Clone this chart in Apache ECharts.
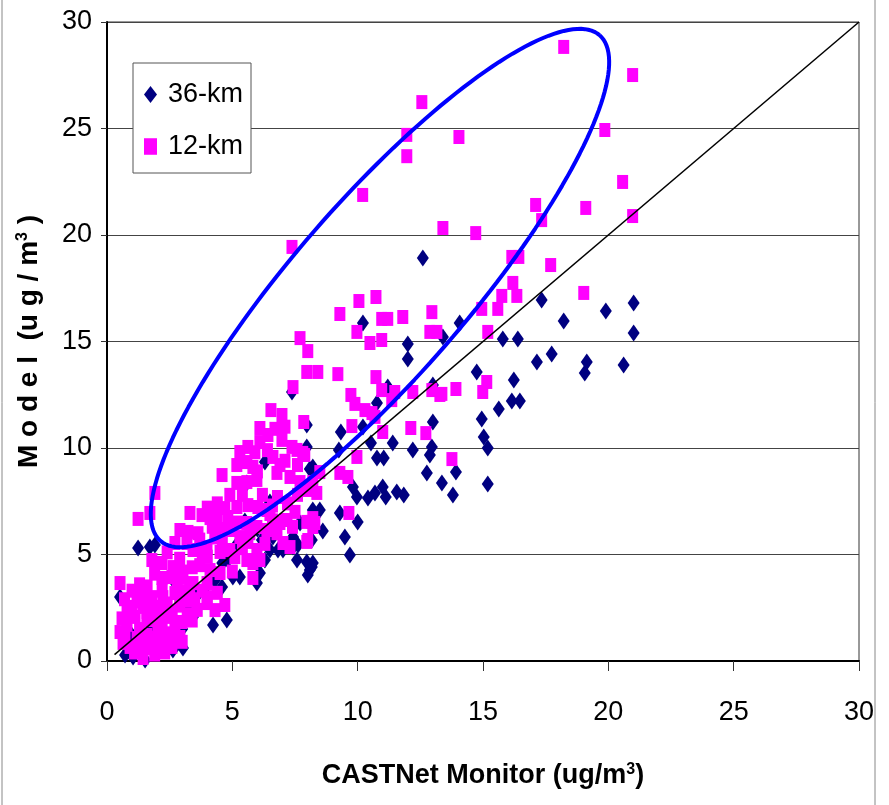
<!DOCTYPE html>
<html>
<head>
<meta charset="utf-8">
<script src="https://cdn.jsdelivr.net/npm/echarts@6/dist/echarts.min.js"></script>
<style>
html,body{margin:0;padding:0;background:#fff;}
#chart{width:889px;height:805px;}
</style>
</head>
<body>
<div id="chart"></div>
<script>
// ---- data ----
const seriesNames = ['36-km', '12-km'];
const xTicks = [0, 5, 10, 15, 20, 25, 30];
const yTicks = [0, 5, 10, 15, 20, 25, 30];

// 36-km model vs CASTNet monitor
const km36 = [
  [14.07,15.87],[13.4,15.21],[17.34,16.95],[18.22,15.96],[19.9,16.43],[21.01,16.81],[21.01,15.4],
  [15.79,15.12],[16.39,15.12],[14.75,13.57],[16.23,13.19],[17.15,14.04],[17.74,14.41],[19.14,14.04],
  [19.06,13.52],[20.61,13.9],[16.15,12.21],[16.47,12.21],[15.63,11.83],[14.95,11.36],[15.03,10.52],
  [15.19,10.0],[13.92,8.87],[13.36,8.36],[15.19,8.31],[13.8,7.79],
  [12.6,18.92],[10.21,15.87],[12.0,14.88],[12.0,14.18],[11.2,12.86],[10.77,12.11],[13.0,12.96],
  [13.0,11.22],[9.33,10.75],[7.97,11.08],[10.21,10.99],[11.4,10.23],[10.53,10.23],[12.2,9.91],
  [12.96,10.05],[12.88,9.67],[10.77,9.53],[11.04,9.53],[9.25,9.91],[12.76,8.83],[10.41,7.65],
  [10.69,7.89],[11.0,8.17],[11.12,7.7],[11.56,7.93],[11.84,7.79],[9.81,8.17],[9.97,7.7],[9.29,6.95],
  [8.49,7.09],[10.0,6.53],[9.49,5.82],[8.61,6.1],[9.69,4.98],[8.17,4.41],[8.01,4.04],[7.02,5.21],
  [7.42,5.35],[7.7,6.48],[7.38,12.63],[7.97,10.05],[8.21,9.11],[8.09,9.01],[8.21,7.09],[7.42,5.82],
  [7.3,5.54],[8.09,4.27],[8.21,4.6],[6.62,5.82],[6.5,5.21],[6.3,4.74],[6.1,4.13],[5.98,3.66],
  [5.3,3.94],[5.02,3.94],[4.59,3.47],[4.23,1.69],[4.78,1.92],[3.43,2.07],[2.59,3.9],[1.24,5.31],
  [1.71,5.35],[1.91,5.45],[0.52,3.0],[3.03,0.61],[2.63,0.52],[0.72,0.28],[1.04,0.19],[1.52,0.05],
  [3.99,3.57],[4.31,3.8],[6.3,9.34],[6.5,7.46],[5.58,8.36],[8.17,5.68],[7.62,5.45],[6.82,5.21],
  [7.58,4.74],[7.97,4.65],[2.3,2.3],[1.8,1.5],[3.6,3.1],[4.6,4.6],[5.5,6.57],[6.18,5.68],[4.82,4.74],
  [3.2,2.6],[2.0,0.9],[1.0,1.2],[5.2,5.5],[6.0,6.2],[4.1,3.9],[3.0,1.5]
];

// 12-km model vs CASTNet monitor
const km12 = [
  [18.22,28.83],[20.97,27.51],[14.04,24.6],[19.86,24.93],[12.56,26.24],[11.96,24.7],[11.96,23.7],
  [10.2,21.88],[20.57,22.49],[17.1,21.41],[19.1,21.27],[17.34,20.7],[20.97,20.89],[13.4,20.33],
  [14.71,20.09],[7.38,19.44],[16.15,18.97],[16.43,18.97],[17.7,18.59],[16.19,17.75],[15.75,17.14],
  [16.35,17.14],[14.95,16.53],[15.59,16.53],[19.02,17.28],[15.19,15.45],[15.15,13.1],[14.99,12.63],
  [13.92,12.77],[13.36,12.54],[13.76,9.48],
  [10.73,17.09],[10.05,16.9],[9.29,16.29],[10.96,16.06],[11.2,16.06],[11.8,16.15],[12.96,16.38],
  [9.97,15.45],[10.49,14.93],[10.96,15.07],[12.88,15.45],[13.16,15.45],[8.01,14.55],[7.7,15.16],
  [7.97,13.57],[8.41,13.57],[9.21,13.47],[10.73,13.33],[10.96,12.72],[11.48,12.63],[11.36,12.25],
  [12.2,12.63],[12.96,12.72],[13.28,12.49],[9.73,12.49],[9.89,12.07],[10.29,11.78],[10.57,11.64],
  [10.69,11.46],[11.0,10.75],[9.77,11.03],[7.85,11.22],[12.12,10.94],[12.72,10.7],[9.97,9.58],
  [7.89,9.67],[9.29,8.83],[9.61,8.64],[8.49,8.87],[8.21,8.4],[7.97,8.03],[9.65,6.95],[8.21,6.71],
  [7.42,12.86],
  [6.54,11.78],[6.98,11.55],[6.1,10.94],[6.42,10.61],[6.1,10.28],[5.62,10.05],[5.3,9.81],[6.98,10.38],
  [7.38,10.05],[7.58,9.91],[7.81,9.77],[6.62,9.58],[5.58,9.34],[5.18,9.2],[5.82,9.11],[4.59,8.73],
  [5.18,8.36],[5.58,8.4],[5.98,8.5],[6.78,8.83],[7.3,8.64],[7.7,8.4],[8.09,8.17],[1.91,7.89],
  [4.7,7.18],[5.18,7.23],[5.62,7.32],[6.02,7.23],[6.38,7.09],[3.31,6.95],[3.79,6.85],[4.11,6.71],
  [1.24,6.67],[1.71,6.95],[2.91,6.15],[3.23,6.06],[3.63,6.0],[4.39,6.76],[4.82,6.76],[6.9,6.48],
  [7.18,6.62],[7.97,6.53],[8.29,6.48],[5.58,6.48],[5.98,6.29],[6.38,6.15],[6.78,6.0],[4.9,6.15],
  [5.3,5.82],[5.62,5.59],[2.71,5.54],[3.19,5.54],[3.43,5.21],[3.99,5.35],[4.51,5.12],[4.9,5.21],
  [5.1,4.88],[5.58,4.74],[5.82,4.6],[6.1,4.74],[5.98,5.21],[7.02,5.54],[7.3,5.35],[7.97,5.59],
  [8.21,6.29],[1.79,4.74],[2.19,4.6],[2.63,4.41],[2.19,3.9],[2.59,3.94],[3.03,3.9],[4.11,4.27],
  [4.51,4.13],[3.43,3.66],[3.99,3.66],[5.82,3.9],[0.52,3.66],[1.4,3.1],[1.79,3.0],[2.23,3.0],
  [2.71,3.19],[3.03,3.24],[3.31,2.86],[3.99,2.72],[4.31,2.39],[4.7,2.63],[1.0,2.54],[1.44,2.54],
  [1.83,2.54],[1.12,2.07],[1.59,1.92],[1.99,1.92],[2.39,2.07],[2.71,1.78],[2.99,1.83],[0.52,1.36],
  [0.72,1.13],[1.2,1.08],[1.59,1.22],[2.03,1.36],[2.43,1.22],[2.91,1.13],[0.92,0.66],[1.32,0.52],
  [1.71,0.61],[2.11,0.75],[2.59,0.66],[1.44,0.14],[0.64,0.85],[8.37,7.89],[8.17,6.53],[8.01,5.68],
  [7.1,6.62],
  [0.6,2.0],[0.8,1.7],[1.0,3.3],[1.3,3.6],[1.6,3.5],[1.9,4.1],[2.1,2.4],[2.4,2.7],[2.6,2.3],
  [2.9,2.6],[3.2,2.2],[3.4,1.9],[1.3,1.5],[1.8,1.1],[2.2,1.6],[2.6,1.3],[3.0,0.9],[1.1,0.4],
  [1.9,0.3],[2.3,0.4],[0.8,2.3],[3.6,2.4],[3.3,3.5],[3.7,4.5],[2.9,4.8],[2.4,5.1],[3.0,4.2],
  [4.0,4.9],[4.3,5.8],[3.7,5.7],[4.6,6.2],[3.8,3.3],[4.4,3.2],[5.0,4.2],[5.4,5.3],[5.2,6.5],
  [6.3,5.5],[6.6,6.6],[6.2,7.8],[6.8,7.7],[7.2,7.4],[7.5,7.0],[6.6,7.3],[5.4,7.8],[4.9,7.8],
  [5.9,9.8],[6.4,9.9],[7.1,9.4],[7.1,11.0],[6.7,10.9],[6.0,8.9],[6.9,9.2],[7.6,9.2],[4.6,5.6],
  [3.4,4.4],[2.2,3.3],[1.6,2.3],[2.8,3.6],[3.5,2.9],[4.0,3.0],[1.2,2.8],[0.7,2.9],[2.5,1.0],
  [1.5,0.9],[3.8,5.1],[4.2,6.3],[5.7,6.0],[6.5,6.9],[7.6,7.8],[7.4,6.3],[4.4,7.4],[4.0,7.2]
];

// 1:1 reference line end points
const oneToOne = [[0.3, 0.3], [30, 30]];

// highlight ellipse: center, half-axis vectors (data units)
const ellipseCenter = [10.89, 17.51];
const ellipseU = [8.76, 11.87];
const ellipseV = [-2.62, 2.68];

const ellipsePts = [];
for (let i = 0; i <= 180; i++) {
  const t = i / 180 * 2 * Math.PI;
  ellipsePts.push([
    ellipseCenter[0] + ellipseU[0] * Math.cos(t) + ellipseV[0] * Math.sin(t),
    ellipseCenter[1] + ellipseU[1] * Math.cos(t) + ellipseV[1] * Math.sin(t)
  ]);
}

const FONT = "'Liberation Sans Narrow', 'Liberation Sans', Arial, sans-serif";

const chart = echarts.init(document.getElementById('chart'), null, {renderer: 'canvas'});
chart.setOption({
  backgroundColor: '#fff',
  animation: false,
  grid: {left: 107, right: 30, top: 22, bottom: 144, show: true, borderColor: '#333', borderWidth: 1},
  legend: {
    orient: 'vertical', left: 133, top: 63,
    backgroundColor: '#fff', borderColor: '#555', borderWidth: 1,
    padding: [18, 8, 13, 11], itemGap: 25,
    itemWidth: 13, itemHeight: 17,
    textStyle: {fontFamily: FONT, fontSize: 27, color: '#000', padding: [0, 0, 0, 6]},
    data: [
      {name: seriesNames[0], icon: 'diamond'},
      {name: seriesNames[1], icon: 'path://M0 0H11V14H0Z'}
    ]
  },
  xAxis: {
    type: 'value', min: xTicks[0], max: xTicks[xTicks.length - 1], interval: 5,
    axisLine: {lineStyle: {color: '#000', width: 2}},
    axisTick: {show: true, length: 10, lineStyle: {color: '#333', width: 1}},
    axisLabel: {fontFamily: FONT, fontSize: 27, color: '#000', margin: 38},
    splitLine: {show: false},
    name: '{a|CASTNet Monitor (ug/m}{s|3}{a|)}',
    nameLocation: 'middle', nameGap: 101,
    nameTextStyle: {
      rich: {
        a: {fontFamily: FONT, fontSize: 27, fontWeight: 'bold', color: '#000'},
        s: {fontFamily: FONT, fontSize: 16, fontWeight: 'bold', color: '#000', verticalAlign: 'top', padding: [0, 0, 12, 0]}
      }
    }
  },
  yAxis: {
    type: 'value', min: yTicks[0], max: yTicks[yTicks.length - 1], interval: 5,
    axisLine: {lineStyle: {color: '#000', width: 2}},
    axisTick: {show: true, length: 6, lineStyle: {color: '#333', width: 1}},
    axisLabel: {fontFamily: FONT, fontSize: 27, color: '#000', margin: 15},
    splitLine: {show: true, lineStyle: {color: '#444', width: 1}},
    name: '{a|M o d e l  (u g / m}{s|3}{a| )}',
    nameLocation: 'middle', nameGap: 64, nameRotate: 90,
    nameTextStyle: {
      rich: {
        a: {fontFamily: FONT, fontSize: 28, fontWeight: 'bold', color: '#000'},
        s: {fontFamily: FONT, fontSize: 16, fontWeight: 'bold', color: '#000', verticalAlign: 'top', padding: [0, 0, 12, 0]}
      }
    }
  },
  series: [
    {
      name: seriesNames[0], type: 'scatter', data: km36,
      symbol: 'diamond', symbolSize: [12, 17],
      itemStyle: {color: '#000080', opacity: 1}, z: 2
    },
    {
      name: seriesNames[1], type: 'scatter', data: km12,
      symbol: 'rect', symbolSize: [11, 14],
      itemStyle: {color: '#FF00FF', opacity: 1}, z: 3
    },
    {
      name: '1:1', type: 'line', data: oneToOne, symbol: 'none',
      lineStyle: {color: '#000', width: 1.5}, z: 4, silent: true
    },
    {
      name: 'highlight', type: 'line', data: ellipsePts, symbol: 'none', smooth: false,
      lineStyle: {color: '#0000FF', width: 4}, z: 5, silent: true
    }
  ],
  graphic: [
    {type: 'line', shape: {x1: 2, y1: 0, x2: 2, y2: 805}, style: {stroke: '#888', lineWidth: 1}},
    {type: 'line', shape: {x1: 875, y1: 0, x2: 875, y2: 805}, style: {stroke: '#888', lineWidth: 1}}
  ]
});
</script>
</body>
</html>
